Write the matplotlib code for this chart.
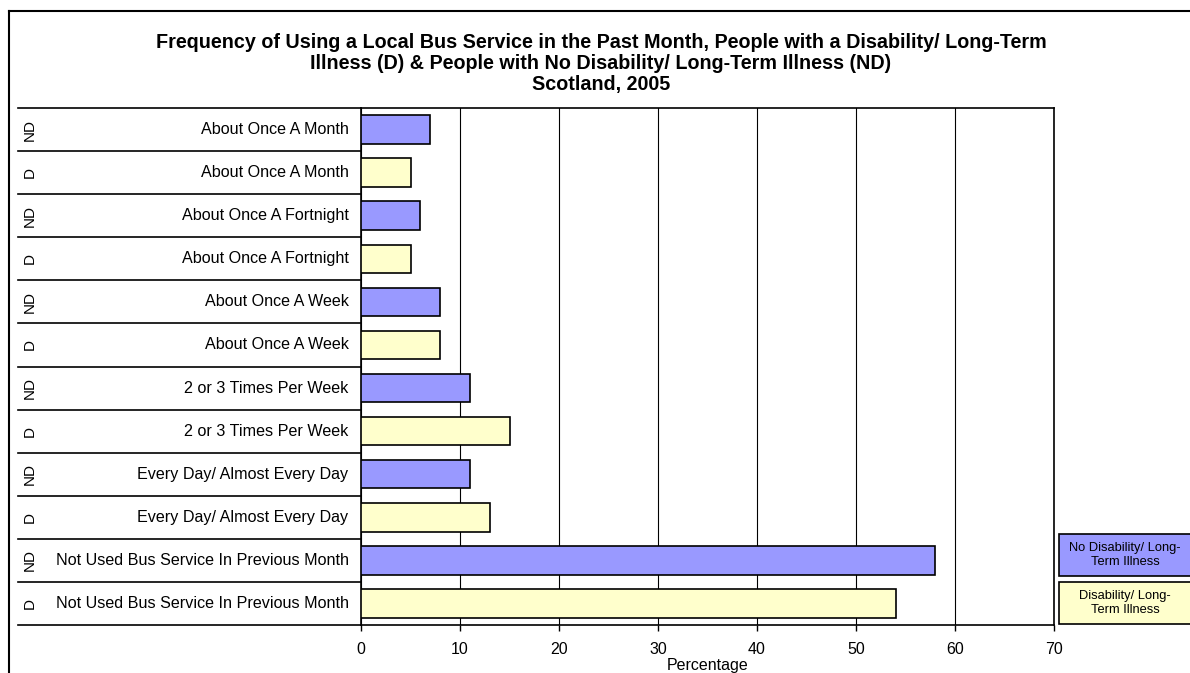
import numpy as np
import matplotlib
matplotlib.use("Agg")
import matplotlib.pyplot as plt
from matplotlib.patches import Rectangle
from matplotlib.lines import Line2D

plt.rcParams['font.family'] = ['Liberation Sans', 'DejaVu Sans']

# rows from bottom to top
categories = ["Not Used Bus Service In Previous Month", "Not Used Bus Service In Previous Month",
              "Every Day/ Almost Every Day", "Every Day/ Almost Every Day",
              "2 or 3 Times Per Week", "2 or 3 Times Per Week",
              "About Once A Week", "About Once A Week",
              "About Once A Fortnight", "About Once A Fortnight",
              "About Once A Month", "About Once A Month"]
groups = ["D", "ND", "D", "ND", "D", "ND", "D", "ND", "D", "ND", "D", "ND"]
values = [54, 58, 13, 11, 15, 11, 8, 8, 5, 6, 5, 7]
x_ticks = [0, 10, 20, 30, 40, 50, 60, 70]

title = ("Frequency of Using a Local Bus Service in the Past Month, People with a Disability/ Long-Term\n"
         "Illness (D) & People with No Disability/ Long-Term Illness (ND)\nScotland, 2005")
legend_labels = ["No Disability/ Long-\nTerm Illness", "Disability/ Long-\nTerm Illness"]

c_nd = "#9999ff"
c_d = "#ffffcc"

W, H = 1190, 673
fig = plt.figure(figsize=(W / 100, H / 100), dpi=100)
fig.patch.set_facecolor("white")

x0, x1, y_top, y_bot = 361, 1054, 108, 625
ax = fig.add_axes([x0 / W, 1 - y_bot / H, (x1 - x0) / W, (y_bot - y_top) / H])

ypos = np.arange(len(values))
colors = [c_nd if g == "ND" else c_d for g in groups]
ax.barh(ypos, values, height=0.66, color=colors, edgecolor="black", linewidth=1.2, zorder=3)

ax.set_xlim(0, 70)
ax.set_ylim(-0.5, len(values) - 0.5)
ax.set_xticks(x_ticks)
ax.set_xticklabels([str(t) for t in x_ticks], fontsize=11.5)
ax.tick_params(axis="x", length=4, width=1, direction="out", pad=8)
ax.set_yticks([])
ax.xaxis.grid(True, color="black", linewidth=0.8, zorder=0)
for s in ax.spines.values():
    s.set_linewidth(1.2)
ax.set_xlabel("Percentage", fontsize=11.5, labelpad=1)

ytr = ax.get_yaxis_transform()
left_edge = (18 - x0) / (x1 - x0)
grp_x = (30 - x0) / (x1 - x0)
for i, (cat, g) in enumerate(zip(categories, groups)):
    ax.text(-0.018, i, cat, transform=ytr, ha="right", va="center", fontsize=11.6)
    ax.text(grp_x, i, g, transform=ytr, ha="center", va="center", rotation=90, fontsize=11)
for b in np.arange(-0.5, len(values), 1.0):
    ax.add_line(Line2D([left_edge, 0], [b, b], transform=ytr, color="black",
                       linewidth=1.2, clip_on=False))

fig.suptitle(title, x=601 / W, y=1 - 33 / H, fontsize=14.2,
             fontweight="bold", va="top", linespacing=1.12)

# outer frame (left and top edges)
fig.add_artist(Line2D([9 / W, 9 / W], [0, 1 - 11 / H], transform=fig.transFigure,
                      color="black", linewidth=1.5))
fig.add_artist(Line2D([9 / W, 1], [1 - 11 / H, 1 - 11 / H], transform=fig.transFigure,
                      color="black", linewidth=1.5))

# legend boxes
boxes = [(534, 576), (582, 624)]
for (yt, yb), lab, col in zip(boxes, legend_labels, [c_nd, c_d]):
    fig.add_artist(Rectangle((1059 / W, 1 - yb / H), 140 / W, (yb - yt) / H,
                             transform=fig.transFigure, facecolor=col,
                             edgecolor="black", linewidth=1.2))
    fig.text(1125 / W, 1 - (yt + yb) / 2 / H, lab, ha="center", va="center",
             fontsize=9.3, linespacing=1.15)

fig.savefig("out.png", dpi=100)
